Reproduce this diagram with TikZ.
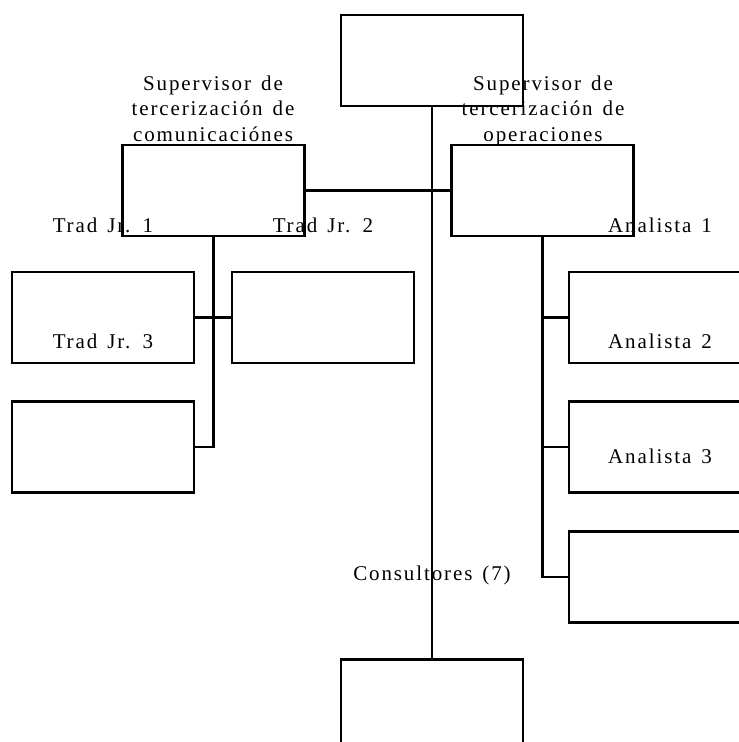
\documentclass[tikz,border=0pt]{standalone}
\usepackage{fontspec}
\setmainfont{Liberation Serif}[LetterSpace=9,WordSpace=1.4]
\begin{document}
\begin{tikzpicture}[x=1pt,y=-1pt,
  box/.style={draw,line width=2.5pt,minimum width=182pt,minimum height=91pt,inner sep=0pt},
  conn/.style={line width=2.5pt},
  lbl/.style={font=\fontsize{21}{25.5}\selectfont,inner sep=0pt,anchor=base,align=center}]
\useasboundingbox (0,0) rectangle (739,742);
\clip (0,0) rectangle (739,742);
% boxes
\node[box] (top)  at (432,60.5) {};
\node[box] (lsup) at (213.5,190.5) {};
\node[box] (rsup) at (542.5,190.5) {};
\node[box] (t1)   at (103,317.5) {};
\node[box] (t2)   at (323,317.5) {};
\node[box] (t3)   at (103,447) {};
\node[box] (a1)   at (660,317.5) {};
\node[box] (a2)   at (660,447) {};
\node[box] (a3)   at (660,577) {};
\node[box] (cons) at (432,705) {};
% connectors
\draw[conn] (top.south) -- (cons.north);
\draw[conn] (lsup.east) -- (rsup.west);
\draw[conn] (t1.east) -- (t2.west);
\draw[conn] (lsup.south) |- (t3.east);
\draw[conn] (rsup.south) |- (a1.west);
\draw[conn] (rsup.south) |- (a2.west);
\draw[conn] (rsup.south) |- (a3.west);
% labels
\node[lbl] (l1) at (213,141) {Supervisor de\\tercerización de\\comunicaciónes};
\node[lbl] (l2) at (543,141) {Supervisor de\\tercerización de\\operaciones};
\node[lbl] (l3) at (103,232) {Trad Jr. 1};
\node[lbl] (l4) at (323,232) {Trad Jr. 2};
\node[lbl] (l5) at (660,232) {Analista 1};
\node[lbl] (l6) at (103,348) {Trad Jr. 3};
\node[lbl] (l7) at (660,348) {Analista 2};
\node[lbl] (l8) at (660,463) {Analista 3};
\node[lbl] (l9) at (432,580) {Consultores (7)};
\end{tikzpicture}
\end{document}
